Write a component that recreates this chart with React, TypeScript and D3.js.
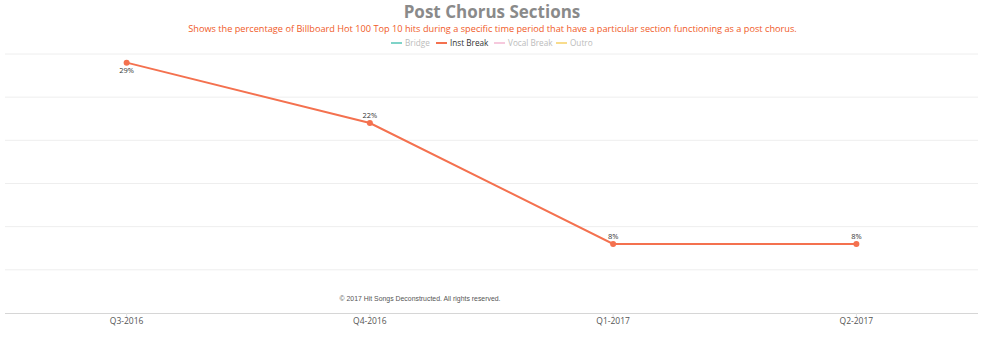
import React from "react";
import * as d3 from "d3";

const categories = ["Q3-2016", "Q4-2016", "Q1-2017", "Q2-2017"];
const instBreak = [29, 22, 8, 8];
const yTicks = [0, 5, 10, 15, 20, 25, 30];
const legendItems = ["Bridge", "Inst Break", "Vocal Break", "Outro"];
const legendColors = ["#7fd3c8", "#f4714f", "#f6c9dd", "#f8dc8c"];
const legendActive = [false, true, false, false];

const W = 984;
const H = 342;
const left = 5;
const right = 978;
const top = 54;
const bottom = 313;

export default function App() {
  const x = d3.scaleBand<string>().domain(categories).range([left, right]).padding(0);
  const y = d3.scaleLinear().domain([0, 30]).range([bottom, top]);
  const cx = (c: string) => (x(c) as number) + x.bandwidth() / 2;
  const line = d3
    .line<number>()
    .x((_, i) => cx(categories[i]))
    .y((d) => y(d));
  const legendX = [391, 436, 494, 556];
  const font = "'Open Sans', sans-serif";
  return (
    <svg width={W} height={H} style={{ position: "absolute", left: 0, top: 0, background: "#fff" }}>
      <text x={492} y={18} textAnchor="middle" fontFamily={font} fontWeight="bold" fontSize={17} fill="#8a8a8a">
        Post Chorus Sections
      </text>
      <text x={492.5} y={32} textAnchor="middle" fontFamily={font} fontSize={9.2} fill="#f05a28">
        Shows the percentage of Billboard Hot 100 Top 10 hits during a specific time period that have a particular section functioning as a post chorus.
      </text>
      {legendItems.map((name, i) => (
        <g key={name} transform={`translate(${legendX[i]},43)`}>
          <line x1={0} x2={11} y1={0} y2={0} stroke={legendColors[i]} strokeWidth={2} />
          <text x={14} y={3} fontFamily={font} fontSize={8.2} fill={legendActive[i] ? "#333" : "#bbb"}>
            {name}
          </text>
        </g>
      ))}
      {yTicks.slice(1).map((t) => (
        <line key={t} x1={left} x2={right} y1={y(t)} y2={y(t)} stroke="#eeeeee" strokeWidth={1} />
      ))}
      <line x1={left} x2={right} y1={bottom + 0.5} y2={bottom + 0.5} stroke="#d6d6d6" strokeWidth={1} />
      {categories.map((c) => (
        <g key={c}>
          <line x1={cx(c)} x2={cx(c)} y1={bottom} y2={bottom + 4} stroke="#e0e0e0" />
          <text x={cx(c)} y={323.5} textAnchor="middle" fontFamily={font} fontSize={8.5} fill="#555">
            {c}
          </text>
        </g>
      ))}
      <text x={420} y={301} textAnchor="middle" fontFamily="'Liberation Sans', Arial, sans-serif" fontSize={6.9} fill="#555">
        © 2017 Hit Songs Deconstructed. All rights reserved.
      </text>
      <path d={line(instBreak) || ""} fill="none" stroke="#f4714f" strokeWidth={2} />
      {instBreak.map((v, i) => (
        <g key={i}>
          <circle cx={cx(categories[i])} cy={y(v)} r={3} fill="#f4714f" />
          <text
            x={cx(categories[i])}
            y={i === 0 ? y(v) + 10 : y(v) - 5}
            textAnchor="middle"
            fontFamily={font}
            fontSize={7.5}
            fill="#333"
          >
            {v}%
          </text>
        </g>
      ))}
    </svg>
  );
}
